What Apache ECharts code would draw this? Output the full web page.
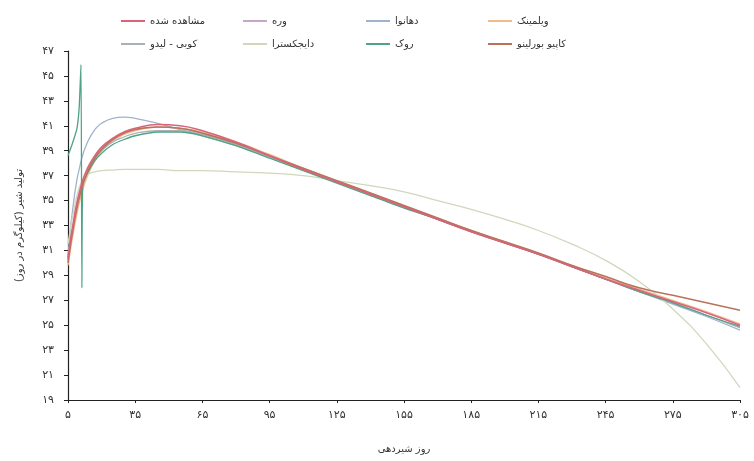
<!DOCTYPE html>
<html>
<head>
<meta charset="utf-8">
<script src="https://cdn.jsdelivr.net/npm/echarts@6/dist/echarts.min.js"></script>
<style>
  html, body { margin: 0; padding: 0; background: #fff; }
  #chart { width: 754px; height: 461px; }
</style>
</head>
<body>
<div id="chart"></div>
<script>
const chart = echarts.init(document.getElementById("chart"));

// ---- data ----
const days = [5, 8, 11, 14, 17, 20, 25, 30, 35, 45, 55, 65, 80, 95, 110, 125, 140, 155, 170, 185, 200, 215, 230, 245, 260, 275, 290, 305];

const observed = [30.4, 33.9, 36.3, 37.7, 38.6, 39.3, 40.0, 40.5, 40.8, 41.1, 41.0, 40.6, 39.7, 38.6, 37.5, 36.5, 35.5, 34.5, 33.5, 32.5, 31.6, 30.7, 29.7, 28.7, 27.8, 26.9, 26.0, 25.0];
const wood     = [30.2, 33.6, 36.0, 37.5, 38.5, 39.2, 39.9, 40.4, 40.7, 40.9, 40.8, 40.4, 39.6, 38.6, 37.5, 36.5, 35.5, 34.5, 33.5, 32.6, 31.6, 30.7, 29.7, 28.7, 27.7, 26.8, 25.8, 24.8];
const dhanoa   = [30.6, 35.6, 38.3, 39.8, 40.7, 41.2, 41.6, 41.7, 41.6, 41.2, 40.7, 40.2, 39.4, 38.5, 37.5, 36.5, 35.5, 34.5, 33.5, 32.5, 31.6, 30.7, 29.7, 28.7, 27.7, 26.7, 25.7, 24.6];
const wilmink  = [29.8, 33.0, 35.5, 37.1, 38.2, 39.0, 39.8, 40.3, 40.6, 40.9, 40.8, 40.5, 39.7, 38.7, 37.6, 36.6, 35.6, 34.6, 33.6, 32.6, 31.7, 30.7, 29.8, 28.8, 27.9, 27.0, 26.1, 25.1];
const cobby    = [30.3, 33.8, 36.1, 37.5, 38.4, 39.0, 39.7, 40.1, 40.4, 40.6, 40.6, 40.3, 39.5, 38.5, 37.5, 36.5, 35.5, 34.5, 33.5, 32.5, 31.6, 30.7, 29.7, 28.7, 27.7, 26.8, 25.8, 24.8];
const dijkstra = [31.5, 34.6, 36.5, 37.1, 37.3, 37.4, 37.45, 37.5, 37.5, 37.5, 37.4, 37.4, 37.3, 37.2, 37.0, 36.6, 36.2, 35.7, 35.0, 34.3, 33.5, 32.6, 31.5, 30.2, 28.5, 26.3, 23.5, 20.0];
const cappio   = [30.0, 33.5, 35.9, 37.4, 38.4, 39.1, 39.9, 40.4, 40.7, 40.9, 40.8, 40.4, 39.6, 38.6, 37.6, 36.6, 35.6, 34.6, 33.6, 32.6, 31.7, 30.8, 29.8, 28.9, 28.0, 27.4, 26.8, 26.2];

const rookDays = [5, 7, 9, 10, 10.8, 11.2, 11.6, 14, 17, 20, 25, 30, 35, 45, 55, 65, 80, 95, 110, 125, 140, 155, 170, 185, 200, 215, 230, 245, 260, 275, 290, 305];
const rook     = [38.6, 39.6, 40.8, 42.5, 45.9, 28.0, 36.3, 37.3, 38.2, 38.8, 39.5, 39.9, 40.2, 40.5, 40.5, 40.2, 39.4, 38.4, 37.4, 36.4, 35.4, 34.4, 33.5, 32.5, 31.6, 30.7, 29.7, 28.7, 27.7, 26.8, 25.8, 24.9];

const names = ["مشاهده شده", "وره", "دهانوا", "ویلمینک", "کوبی - لیدو", "دایجکسترا", "روک", "کاپیو بورلینو"];
const colors = ["#d9637a", "#c9a5c6", "#9fb4cc", "#f2bb8c", "#a9b0b8", "#cfd8bd", "#4fa383", "#b9735a"];
const widths = [1.6, 1.3, 1.3, 1.3, 1.3, 1.3, 1.3, 1.6];
const values = [observed, wood, dhanoa, wilmink, cobby, dijkstra, rook, cappio];
const xs = [days, days, days, days, days, days, rookDays, days];

const FONT = "DejaVu Sans";
const faDigits = "۰۱۲۳۴۵۶۷۸۹";
const toFa = v => String(v).replace(/\d/g, d => faDigits[d]);

// legend: 2 rows x 4 columns
const legendLeft = [116, 238, 361, 483];
const legendTop = [11, 34];
const legends = names.map((n, i) => ({
  data: [n],
  left: legendLeft[i % 4],
  top: legendTop[Math.floor(i / 4)],
  icon: "rect",
  itemWidth: 24,
  itemHeight: 2,
  itemGap: 6,
  textStyle: { fontFamily: FONT, fontSize: 10, color: "#333" }
}));

chart.setOption({
  animation: false,
  backgroundColor: "#fff",
  legend: legends,
  grid: { left: 68, right: 14, top: 51, bottom: 61 },
  xAxis: {
    type: "value",
    min: 5,
    max: 305,
    interval: 30,
    name: "روز شیردهی",
    nameLocation: "middle",
    nameGap: 44,
    nameTextStyle: { fontFamily: FONT, fontSize: 10, color: "#333" },
    axisLine: { lineStyle: { color: "#222", width: 1.2 } },
    axisTick: { length: 3, lineStyle: { color: "#222" } },
    axisLabel: { formatter: toFa, fontFamily: FONT, fontSize: 11, color: "#333", margin: 10 },
    splitLine: { show: false }
  },
  yAxis: {
    type: "value",
    min: 19,
    max: 47,
    interval: 2,
    name: "تولید شیر (کیلوگرم در روز)",
    nameLocation: "middle",
    nameGap: 44,
    nameTextStyle: { fontFamily: FONT, fontSize: 10, color: "#333" },
    axisLine: { show: true, lineStyle: { color: "#222", width: 1.2 } },
    axisTick: { show: true, length: 4, lineStyle: { color: "#222" } },
    axisLabel: { formatter: toFa, fontFamily: FONT, fontSize: 11, color: "#333", margin: 14 },
    splitLine: { show: false }
  },
  series: names.map((n, i) => ({
    name: n,
    type: "line",
    data: xs[i].map((d, j) => [d, values[i][j]]),
    showSymbol: false,
    smooth: i === 6 ? 0.2 : 0.5,
    lineStyle: { color: colors[i], width: widths[i] },
    itemStyle: { color: colors[i] },
    z: i === 0 ? 5 : 2
  }))
});
</script>
</body>
</html>
